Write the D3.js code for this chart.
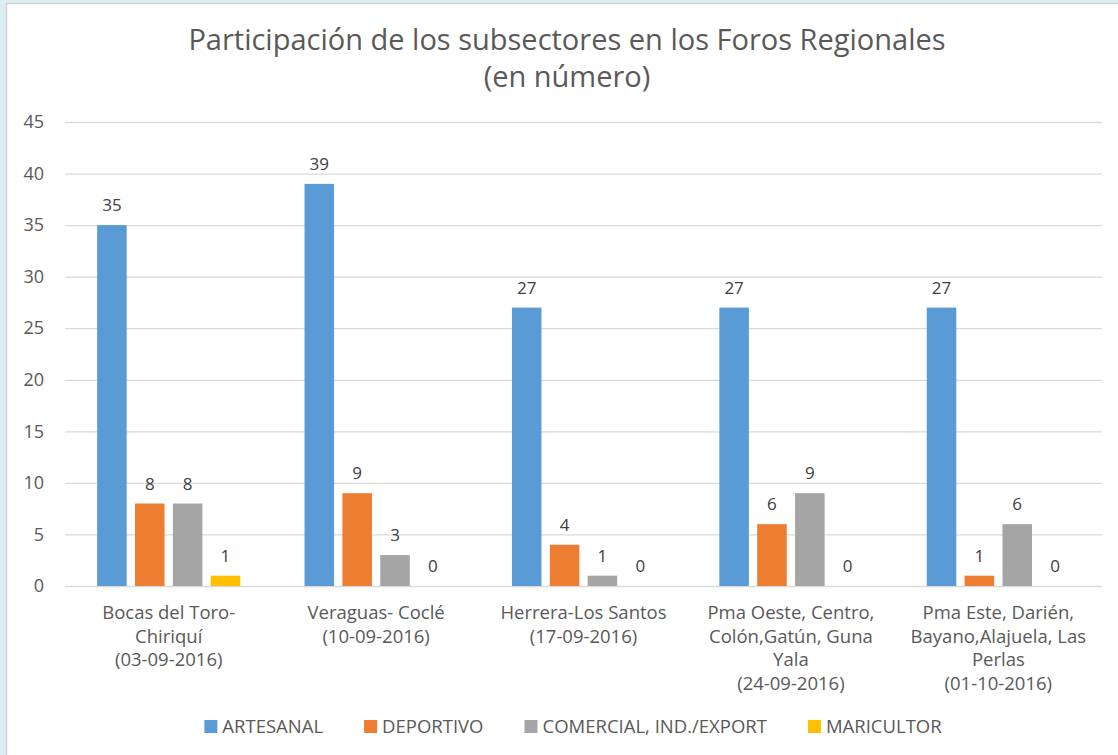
<!DOCTYPE html>
<html>
<head>
<meta charset="utf-8">
<script src="https://cdn.jsdelivr.net/npm/d3@7"></script>
<style>
  body { margin: 0; background: #dcedf1; }
  #chart { position: absolute; left: 0; top: 0; }
</style>
</head>
<body>
<div id="chart"></div>
<script>
const categories = [
  ["Bocas del Toro-", "Chiriquí", "(03-09-2016)"],
  ["Veraguas- Coclé", "(10-09-2016)"],
  ["Herrera-Los Santos", "(17-09-2016)"],
  ["Pma Oeste, Centro,", "Colón,Gatún, Guna", "Yala", "(24-09-2016)"],
  ["Pma Este, Darién,", "Bayano,Alajuela, Las", "Perlas", "(01-10-2016)"],
];
const seriesNames = ["ARTESANAL", "DEPORTIVO", "COMERCIAL, IND./EXPORT", "MARICULTOR"];
const artesanal = [35, 39, 27, 27, 27];
const deportivo = [8, 9, 4, 6, 1];
const comercial = [8, 3, 1, 9, 6];
const maricultor = [1, 0, 0, 0, 0];
const yTicks = [0, 5, 10, 15, 20, 25, 30, 35, 40, 45];
const colors = ["#5b9bd5", "#ed7d31", "#a5a5a5", "#ffc000"];

const series = [artesanal, deportivo, comercial, maricultor];
const W = 1118, H = 755;
const margin = { top: 122, right: 16, bottom: 169, left: 65 };
const width = W - margin.left - margin.right,
  height = H - margin.top - margin.bottom;
const font = "'Open Sans', 'Noto Sans', sans-serif";

const svg = d3.select("#chart").append("svg")
  .attr("width", W).attr("height", H)
  .style("font-family", font);

// white panel with a thin border
svg.append("rect")
  .attr("x", 6.5).attr("y", 3.5)
  .attr("width", W + 10).attr("height", H + 10)
  .attr("fill", "#fff").attr("stroke", "#cfd3d5").attr("stroke-width", 1.5);

const g = svg.append("g")
  .attr("transform", "translate(" + margin.left + "," + margin.top + ")");

const x0 = d3.scaleBand()
  .domain(d3.range(categories.length))
  .range([0, width])
  .paddingInner(0.31)
  .paddingOuter(0.155);
const x1 = d3.scaleBand()
  .domain(d3.range(series.length))
  .range([0, x0.bandwidth()])
  .paddingInner(0.22);
const y = d3.scaleLinear().domain([0, 45]).range([height, 0]);

// gridlines + y labels
g.append("g")
  .call(d3.axisLeft(y).tickValues(yTicks).tickSize(-width).tickPadding(21))
  .call((a) => a.select(".domain").remove())
  .call((a) => a.selectAll("line").attr("stroke", "#d9d9d9").attr("stroke-width", 1.3))
  .call((a) => a.selectAll("text")
    .attr("fill", "#595959").attr("font-size", 18).attr("font-family", font));

// bars
const groups = g.selectAll(".grp")
  .data(categories)
  .enter().append("g")
  .attr("class", "grp")
  .attr("transform", (d, i) => "translate(" + x0(i) + ",0)");

groups.each(function (cat, i) {
  const vals = series.map((s, k) => ({ k: k, v: s[i] }));
  const sel = d3.select(this);
  sel.selectAll("rect")
    .data(vals)
    .enter().append("rect")
    .attr("x", (d) => x1(d.k))
    .attr("width", x1.bandwidth())
    .attr("y", (d) => y(d.v))
    .attr("height", (d) => height - y(d.v))
    .attr("fill", (d) => colors[d.k]);
  sel.selectAll("text.val")
    .data(vals)
    .enter().append("text")
    .attr("class", "val")
    .attr("x", (d) => x1(d.k) + x1.bandwidth() / 2)
    .attr("y", (d) => y(d.v) - 14)
    .attr("text-anchor", "middle")
    .attr("font-size", 17)
    .attr("fill", "#404040")
    .text((d) => d.v);
});

// category labels
categories.forEach(function (lines, i) {
  const t = g.append("text")
    .attr("text-anchor", "middle")
    .attr("font-size", 18.5)
    .attr("fill", "#595959")
    .attr("transform", "translate(" + (x0(i) + x0.bandwidth() / 2) + "," + (height + 33) + ")");
  lines.forEach(function (line, j) {
    t.append("tspan").attr("x", 0).attr("y", j * 23.7).text(line);
  });
});

// title
const title = svg.append("text")
  .attr("text-anchor", "middle")
  .attr("font-size", 29)
  .attr("fill", "#595959");
title.append("tspan").attr("x", 567).attr("y", 50).text("Participación de los subsectores en los Foros Regionales");
title.append("tspan").attr("x", 567).attr("y", 87).text("(en número)");

// legend
const legendGap = 41;
const legend = svg.append("g");
let lx = 0;
seriesNames.forEach(function (name, k) {
  const it = legend.append("g");
  it.append("rect")
    .attr("x", 0).attr("y", -13).attr("width", 13).attr("height", 13)
    .attr("fill", colors[k]);
  const tx = it.append("text")
    .attr("x", 18).attr("font-size", 18.5).attr("fill", "#595959")
    .text(name);
  const w = 18 + tx.node().getComputedTextLength();
  it.attr("transform", "translate(" + lx + ",0)");
  lx += w + legendGap;
});
const totalW = lx - legendGap;
legend.attr("transform", "translate(" + (573 - totalW / 2) + ",733)");
</script>
</body>
</html>
